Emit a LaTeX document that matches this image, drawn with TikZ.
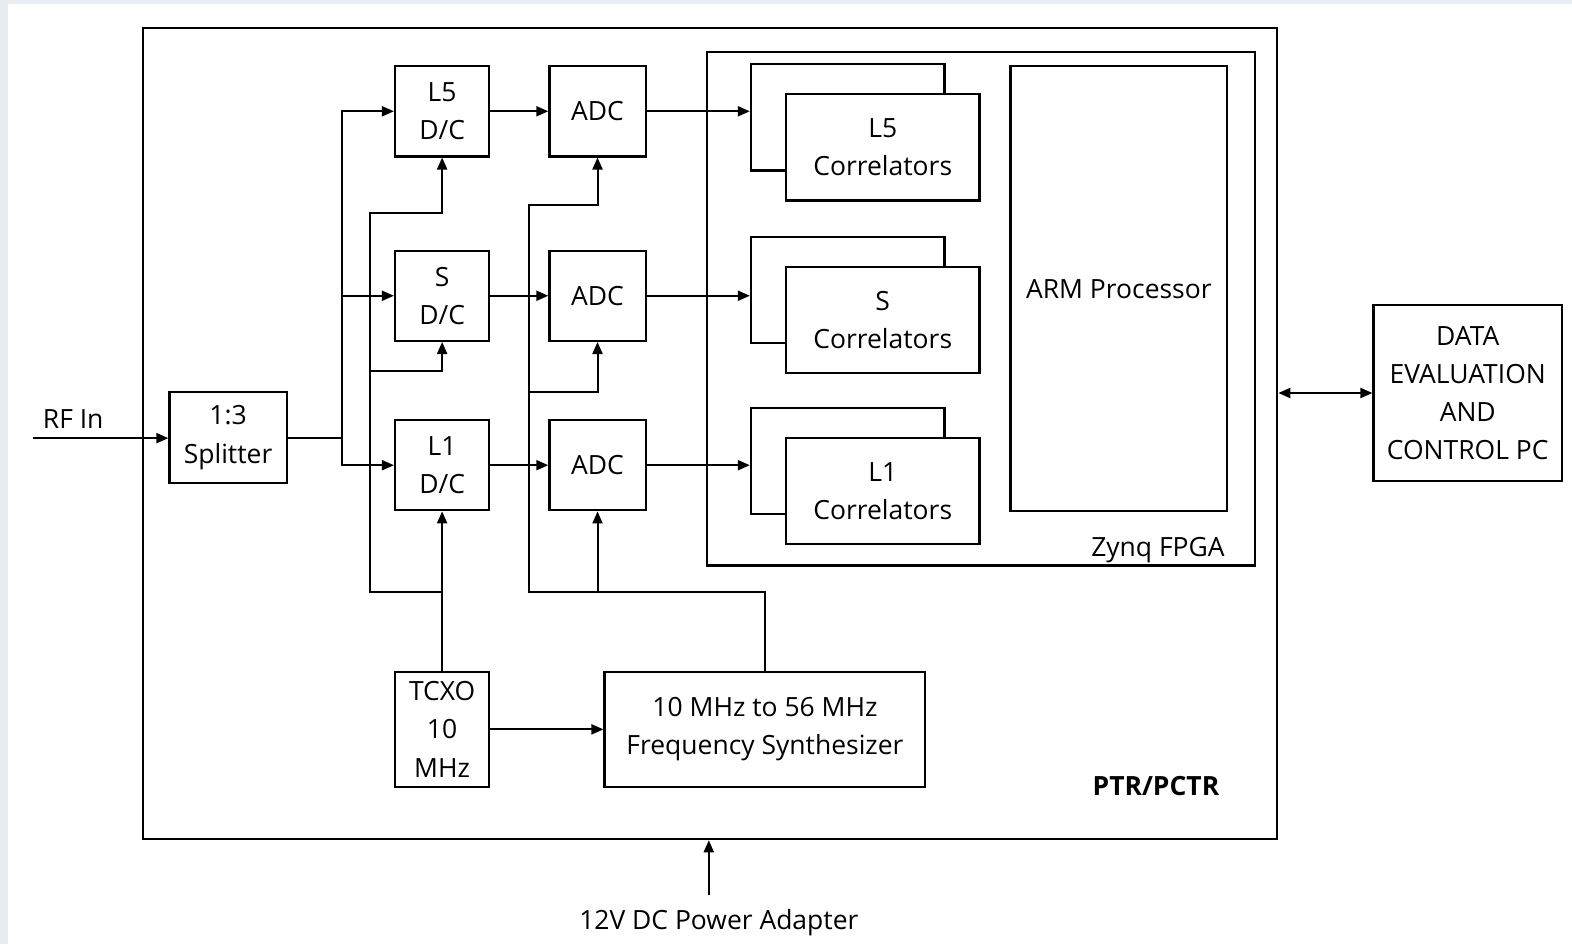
\documentclass[tikz,border=0pt]{standalone}
\usepackage{fontspec}
\setmainfont{Open Sans}
\usepackage{tikz}
\usetikzlibrary{arrows.meta,calc,positioning}
\definecolor{bgclr}{RGB}{233,236,241}
\tikzset{
  % Bloklar
  blk/.style   = {draw=black, line width=1.1pt, fill=white, inner sep=0pt, align=center,
                  font=\fontsize{13.2}{19}\selectfont},
  % Signal chiziqlari
  sig/.style   = {line width=1pt, -{Triangle[length=6pt,width=5pt]}},
  wire/.style  = {line width=1pt},
  % Etiketlar
  lab/.style   = {font=\fontsize{13.2}{19}\selectfont, inner sep=1pt, align=center},
}
\begin{document}
\begin{tikzpicture}[x=0.5pt,y=-0.5pt]
  \useasboundingbox (0,0) rectangle (1568,942);
  \fill[bgclr] (0,0) rectangle (1568,942);
  \fill[white] (8,4) rectangle (1568,942);
  % Tashqi qutilar
  \node[blk, minimum width=565.5pt, minimum height=404.5pt] (ptr) at (708.5,432.5) {};
  \node[blk, minimum width=273.5pt, minimum height=256pt] (zynq) at (978.5,308) {};
  \node[lab] (lblzynq) at (1155,549) {Zynq FPGA};
  \node[lab, font=\fontsize{13.2}{19}\selectfont\bfseries] (lblptr) at (1153,784) {PTR/PCTR};
  % Splitter va D/C
  \node[blk, minimum width=58.5pt, minimum height=45.5pt] (splt) at (227.5,436.5) {1:3\\Splitter};
  \node[blk, minimum width=47pt, minimum height=45pt] (dc5) at (441,111) {L5\\D/C};
  \node[blk, minimum width=47pt, minimum height=45pt] (dcs) at (441,295) {S\\D/C};
  \node[blk, minimum width=47pt, minimum height=45pt] (dc1) at (441,464) {L1\\D/C};
  % ADC
  \node[blk, minimum width=48pt, minimum height=45pt] (adc5) at (596,111) {ADC};
  \node[blk, minimum width=48pt, minimum height=45pt] (adcs) at (596,295) {ADC};
  \node[blk, minimum width=48pt, minimum height=45pt] (adc1) at (596,464) {ADC};
  % Korrelyatorlar (orqa va old)
  \foreach \n/\y/\t in {5/147/L5, s/319/S, 1/490/L1}{
    \node[blk, minimum width=96.5pt, minimum height=53pt] (cor\n b) at (845.5,\y-30) {};
    \node[blk, minimum width=96.5pt, minimum height=53pt] (cor\n) at (880.5,\y) {\t\\Correlators};
  }
  \node[blk, minimum width=108pt, minimum height=222pt] (arm) at (1116,288) {ARM Processor};
  % Soat manbalari
  \node[blk, minimum width=47pt, minimum height=57.5pt] (tcxo) at (441,727.5) {TCXO\\10\\MHz};
  \node[blk, minimum width=160pt, minimum height=57.5pt] (synth) at (763,727.5) {10 MHz to 56 MHz\\Frequency Synthesizer};
  % Tashqi kompyuter
  \node[blk, minimum width=94pt, minimum height=88pt] (pc) at (1464,392) {DATA\\EVALUATION\\AND\\CONTROL PC};
  % RF kirish
  \coordinate (rfin) at (33,437);
  \node[lab] (lblrf) at (73,418) {RF In};
  \draw[sig] (rfin) -- (rfin -| splt.west);
  % Splitter chiqishi
  \coordinate (trk) at ([xshift=27pt]splt.east);
  \draw[wire] (splt.east) -- (trk);
  \draw[sig] (trk) |- (dc5.west);
  \draw[sig] (trk) |- (dcs.west);
  \draw[sig] (trk) |- (dc1.west);
  % D/C -> ADC -> korrelyator
  \foreach \n in {5,s,1}{
    \draw[sig] (dc\n) -- (adc\n);
    \draw[sig] (adc\n.east) -- (adc\n.east -| cor\n b.west);
  }
  % TCXO taqsimoti
  \coordinate (lo) at (441,590);
  \coordinate (lob) at (369,590);
  \coordinate (loa) at (369,212);
  \coordinate (loc) at (369,370);
  \draw[sig] (tcxo) -- (dc1);
  \draw[sig] (lo) -- (lob) -- (loa) -| (dc5.south);
  \draw[sig] (loc) -| (dcs.south);
  \draw[sig] (tcxo) -- (synth);
  % ADC takt signali
  \coordinate (cka) at (528,590);
  \coordinate (ckb) at (528,204);
  \coordinate (ckc) at (528,391);
  \draw[sig] (synth.north) |- (cka) -- (ckb) -| (adc5.south);
  \draw[sig] (ckc) -| (adcs.south);
  \draw[sig] (adc1.south |- cka) -- (adc1.south);
  % PC bilan aloqa
  \draw[line width=1pt, {Triangle[length=6pt,width=5pt]}-{Triangle[length=6pt,width=5pt]}]
    (ptr.east |- pc.west) -- (pc.west);
  % Quvvat
  \coordinate (pwr) at (707,893);
  \draw[sig] (pwr) -- (pwr |- ptr.south);
  \node[lab] (lblpwr) at (717,920) {12V DC Power Adapter};
\end{tikzpicture}
\end{document}
